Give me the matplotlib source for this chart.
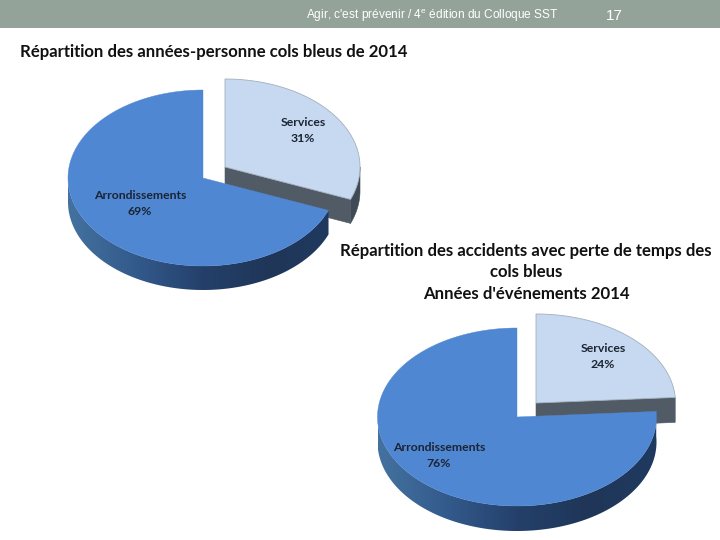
import numpy as np
import matplotlib
matplotlib.use("Agg")
import matplotlib.pyplot as plt
from matplotlib.patches import Polygon, Rectangle
from matplotlib.colors import LinearSegmentedColormap

# Data
categories = ["Services", "Arrondissements"]
persons_pct = [31, 69]
accidents_pct = [24, 76]
title_1 = "Répartition des années-personne cols bleus de 2014"
title_2 = ["Répartition des accidents avec perte de temps des", "cols bleus", "Années d'événements 2014"]
header = "Agir, c'est prévenir / 4$^{\\mathregular{e}}$ édition du Colloque SST"
page = "17"

# Style
BAND = "#93a39a"
TOP_DARK = "#5087d2"
TOP_LIGHT = "#c6d9f1"
CUT = "#505b66"
INK = "#1c2433"
TITLE_FONT = "Lato"
SIDE_CMAP = LinearSegmentedColormap.from_list("side", ["#44729f", "#335a8c", "#24406a", "#1f3658", "#1f3a60"])


def arc(cx, cy, rx, ry, t0, t1, n=200):
    t = np.radians(np.linspace(t0, t1, n))
    return cx + rx * np.sin(t), cy - ry * np.cos(t)


def pie3d(ax, values, c_small, c_big, rx, ry, depth):
    small = values[0] / sum(values) * 360
    # detached slice: outer side (only when it passes 3 o'clock), cut face, top
    if small > 90:
        x, y = arc(*c_small, rx, ry, 90, small, 60)
        ax.add_patch(Polygon(np.r_[np.c_[x, y], np.c_[x, y + depth][::-1]],
                             fc="#3f4a56", ec="#3f4a56", lw=0.4, zorder=1))
    ex, ey = arc(*c_small, rx, ry, small, small, 1)
    ax.add_patch(Polygon([c_small, (ex[0], ey[0]), (ex[0], ey[0] + depth), (c_small[0], c_small[1] + depth)],
                         fc=CUT, ec=CUT, lw=0.4, zorder=2))
    x, y = arc(*c_small, rx, ry, 0, small)
    ax.add_patch(Polygon(np.r_[[c_small], np.c_[x, y]], fc=TOP_LIGHT, ec="#a3afbd", lw=0.6, zorder=3))
    # main slice: outer side with horizontal gradient, then top
    x, y = arc(*c_big, rx, ry, small, 270, 400)
    side = Polygon(np.r_[np.c_[x, y], np.c_[x, y + depth][::-1]], fc="none", ec="none", transform=ax.transData)
    ax.add_patch(side)
    grad = np.linspace(0, 1, 256)[None, :]
    im = ax.imshow(grad, cmap=SIDE_CMAP, aspect="auto", zorder=4, interpolation="bilinear",
                   extent=(c_big[0] - rx, c_big[0] + rx, c_big[1] + ry + depth, c_big[1] - ry))
    im.set_clip_path(side)
    x, y = arc(*c_big, rx, ry, small, 360, 400)
    ax.add_patch(Polygon(np.r_[[c_big], np.c_[x, y]], fc=TOP_DARK, ec=TOP_DARK, lw=0.3, zorder=5))


def labels(ax, values, pos_small, pos_big):
    for name, v, (px, py) in zip(categories, values, (pos_small, pos_big)):
        ax.text(px, py + 1.2, name, ha="center", va="center", fontsize=8.8, fontweight="bold",
                family=TITLE_FONT, color=INK, zorder=6)
        ax.text(px, py + 17.2, f"{v}%", ha="center", va="center", fontsize=8.8, fontweight="bold",
                family=TITLE_FONT, color=INK, zorder=6)


fig = plt.figure(figsize=(7.2, 5.4), dpi=100, facecolor="white")
ax = fig.add_axes([0, 0, 1, 1])

ax.add_patch(Rectangle((0, 0), 720, 28, fc=BAND, ec="none"))
ax.text(306, 15.5, header, ha="left", va="center", fontsize=8.6, color="white", family="Liberation Sans")
ax.text(614, 15.5, page, ha="center", va="center", fontsize=11, color="white", family="Liberation Sans")

ax.text(20, 52, title_1, ha="left", va="center", fontsize=12.1, fontweight="bold", family=TITLE_FONT, color="#111111")
for s, yy in zip(title_2, (251, 272, 294)):
    ax.text(526, yy, s, ha="center", va="center", fontsize=12.1, fontweight="bold", family=TITLE_FONT, color="#111111")

pie3d(ax, persons_pct, (225, 167), (203, 178), 135, 88, 24)
labels(ax, persons_pct, (303, 121), (140, 194))
pie3d(ax, accidents_pct, (536, 403), (517, 417), 139.5, 89, 25)
labels(ax, accidents_pct, (603, 347), (439, 446))

ax.set_xlim(0, 720)
ax.set_ylim(540, 0)
ax.set_aspect("auto")
ax.axis("off")

fig.savefig("out.png", dpi=100)
